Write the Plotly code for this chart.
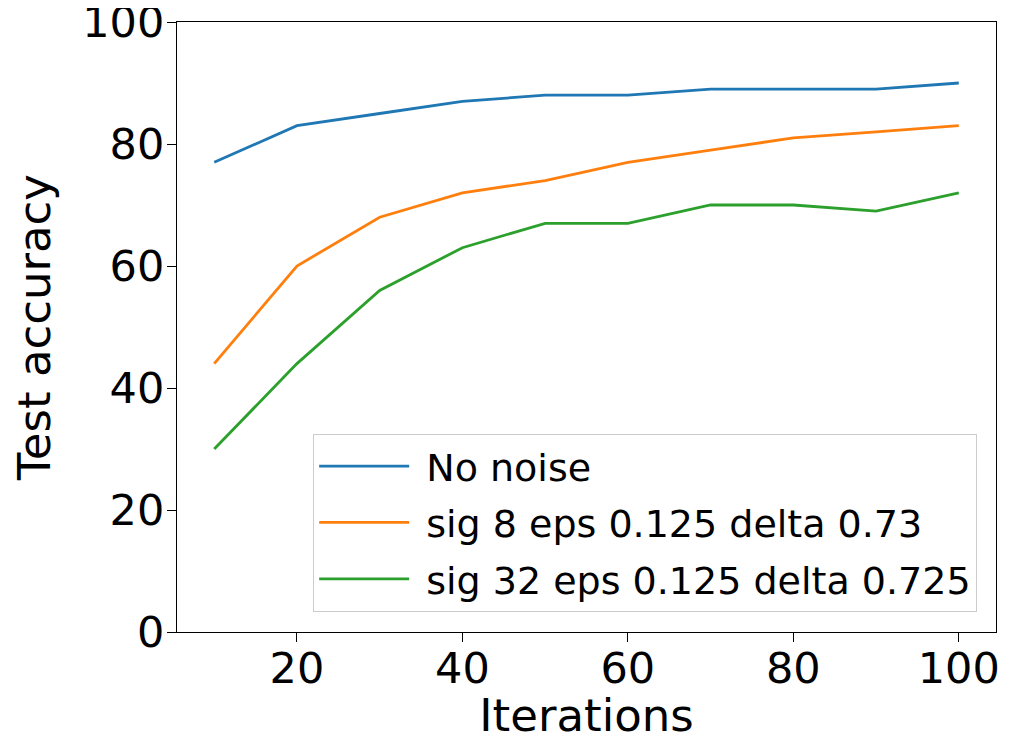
import plotly.graph_objects as go

iterations = [10, 20, 30, 40, 50, 60, 70, 80, 90, 100]
no_noise = [77, 83, 85, 87, 88, 88, 89, 89, 89, 90]
sig8 = [44, 60, 68, 72, 74, 77, 79, 81, 82, 83]
sig32 = [30, 44, 56, 63, 67, 67, 70, 70, 69, 72]

names = ["No noise", "sig 8 eps 0.125 delta 0.73", "sig 32 eps 0.125 delta 0.725"]
colors = ["#1f77b4", "#ff7f0e", "#2ca02c"]
x_ticks = [20, 40, 60, 80, 100]
y_ticks = [0, 20, 40, 60, 80, 100]

fig = go.Figure()
for i, (name, ys, c) in enumerate(zip(names, [no_noise, sig8, sig32], colors)):
    fig.add_trace(go.Scatter(x=iterations, y=ys, mode="lines", name="\u00a0" + name,
                             legendgroup=f"g{i}",
                             line=dict(color=c, width=2.8)))

axis_common = dict(showgrid=False, zeroline=False, showline=True, linecolor="black",
                   linewidth=1.3, mirror=True, ticks="outside", ticklen=9, tickwidth=1.3,
                   tickcolor="black", tickfont=dict(size=43, color="black"),
                   automargin=False, ticklabeloverflow="allow")

# page body has an 8px margin, so the figure is sized to fill the rest of the window
fig.update_layout(
    width=1008, height=734,
    margin=dict(l=169, r=20, t=14, b=110),
    plot_bgcolor="white", paper_bgcolor="white",
    font=dict(family="DejaVu Sans", color="black"),
    xaxis=dict(range=[5.5, 104.5], tickvals=x_ticks, ticklabelstandoff=-11,
               title=dict(text="Iterations", font=dict(size=45), standoff=17), **axis_common),
    yaxis=dict(range=[0, 100], tickvals=y_ticks, ticklabelstandoff=-6,
               title=dict(text="Test accuracy", font=dict(size=45), standoff=20), **axis_common),
    legend=dict(x=0.977, y=0.033, xanchor="right", yanchor="bottom",
                bgcolor="rgba(255,255,255,0.8)", bordercolor="#cccccc", borderwidth=1,
                font=dict(size=38), itemwidth=90, tracegroupgap=4),
    showlegend=True,
)

fig.write_html("out.html")
